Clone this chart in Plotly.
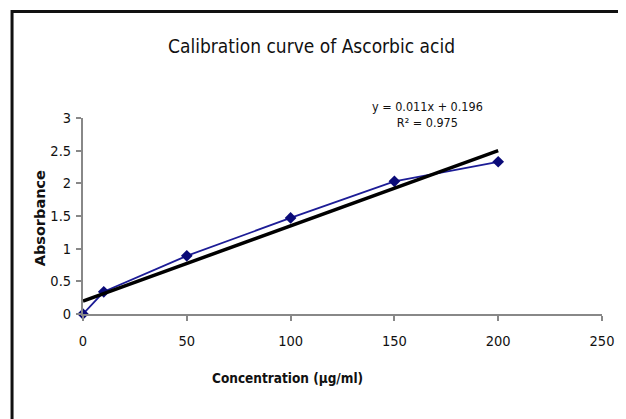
import numpy as np
import plotly.graph_objects as go

# Data
concentration = [0, 10, 50, 100, 150, 200]
absorbance = [0, 0.34, 0.89, 1.47, 2.03, 2.33]
x_ticks = [0, 50, 100, 150, 200, 250]
y_ticks = [0, 0.5, 1, 1.5, 2, 2.5, 3]
y_tick_labels = ["0", "0.5", "1", "1.5", "2", "2.5", "3"]
equation_text = "y = 0.011x + 0.196<br>R² = 0.975"

slope, intercept = np.polyfit(concentration, absorbance, 1)
trend_x = [concentration[0], concentration[-1]]
trend_y = [slope * v + intercept for v in trend_x]

FONT = "DejaVu Sans Condensed, Liberation Sans Narrow, Arial Narrow, Liberation Sans, sans-serif"

# page body margin offset (browser default)
OFF = 8

fig = go.Figure()
fig.add_trace(go.Scatter(
    x=concentration, y=absorbance, mode="lines+markers",
    line=dict(color="#1c1c96", width=1.8),
    marker=dict(symbol="diamond", size=9, color="#0a0a78"),
    showlegend=False, cliponaxis=False,
))
fig.add_trace(go.Scatter(
    x=trend_x, y=trend_y, mode="lines",
    line=dict(color="black", width=3.5),
    showlegend=False, cliponaxis=False,
))

W, H = 626 - OFF, 419 - OFF
L, R, T, B = 83 - OFF, 20, 118 - OFF, 105
pw, ph = W - L - R, H - T - B

def px(x):
    return (x - OFF - L) / pw

def py(y):
    return (H - B - (y - OFF)) / ph

fig.update_layout(
    width=W, height=H,
    margin=dict(l=L, r=R, t=T, b=B),
    paper_bgcolor="white", plot_bgcolor="white",
    font=dict(family=FONT, color="#111111", size=14),
    xaxis=dict(
        range=[0, 250], tickvals=x_ticks, showgrid=False, zeroline=False,
        showline=True, linecolor="#888888", linewidth=2,
        ticks="outside", ticklen=5, tickcolor="#888888", tickwidth=1.5,
        tickfont=dict(size=14.5, family=FONT), ticklabelstandoff=8,
    ),
    yaxis=dict(
        range=[0, 3], tickvals=y_ticks, ticktext=y_tick_labels,
        showgrid=False, zeroline=False,
        showline=True, linecolor="#888888", linewidth=2,
        ticks="outside", ticklen=5, tickcolor="#888888", tickwidth=1.5,
        tickfont=dict(size=14.5, family=FONT), ticklabelstandoff=2,
    ),
    annotations=[
        dict(text="Calibration curve of Ascorbic acid", xref="paper", yref="paper",
             x=px(313), y=py(46), showarrow=False, xanchor="center", yanchor="middle",
             font=dict(size=19, family=FONT, color="#111111")),
        dict(text="<b>Absorbance</b>", xref="paper", yref="paper",
             x=px(40), y=py(218), showarrow=False, textangle=-90,
             xanchor="center", yanchor="middle",
             font=dict(size=14.5, family="DejaVu Sans, sans-serif", color="#111111")),
        dict(text="<b>Concentration (µg/ml)</b>", xref="paper", yref="paper",
             x=px(289), y=py(378), showarrow=False, xanchor="center", yanchor="middle",
             font=dict(size=13.5, family=FONT, color="#111111")),
        dict(text=equation_text, xref="paper", yref="paper",
             x=px(430), y=py(115), showarrow=False, xanchor="center", yanchor="middle",
             align="center",
             font=dict(size=12.5, family=FONT, color="#111111")),
    ],
    shapes=[
        dict(type="rect", xref="paper", yref="paper",
             x0=px(11.5), x1=px(680), y0=py(480), y1=py(11.5),
             line=dict(color="#111111", width=3), layer="above"),
    ],
)

fig.write_html("out.html")
